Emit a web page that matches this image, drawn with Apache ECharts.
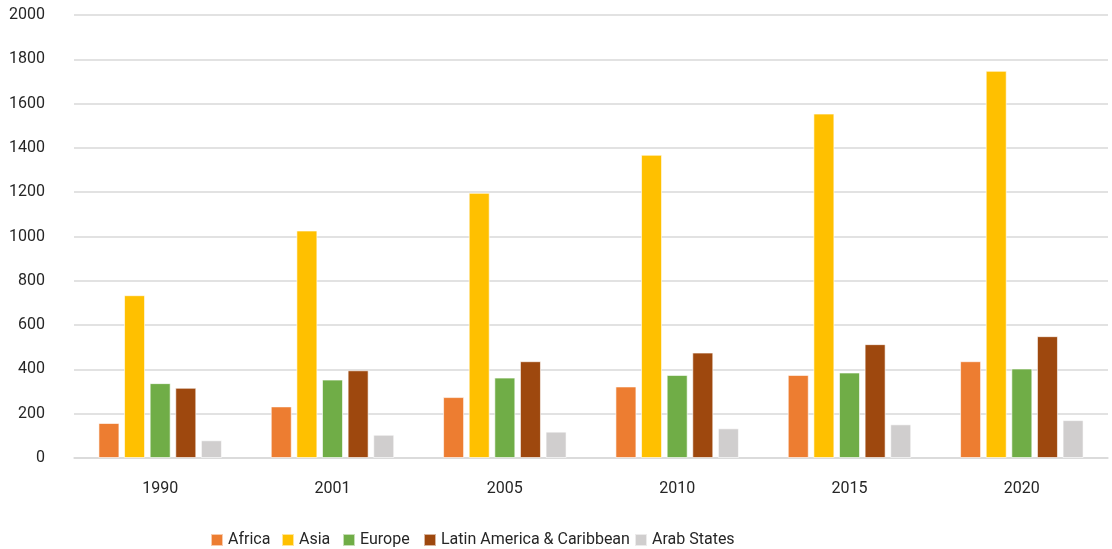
<!DOCTYPE html>
<html><head><meta charset="utf-8">
<script src="https://cdn.jsdelivr.net/npm/echarts@6/dist/echarts.min.js"></script>
<style>html,body{margin:0;padding:0;background:#fff}#c{width:1112px;height:549px}</style>
</head><body><div id="c"></div>
<script>
const categories = ['1990','2001','2005','2010','2015','2020'];
const seriesNames = ['Africa','Asia','Europe','Latin America & Caribbean','Arab States'];
const africa = [158, 233, 275, 323, 375, 437];
const asia = [735, 1027, 1197, 1369, 1555, 1748];
const europe = [338, 354, 363, 375, 386, 404];
const latinAmerica = [317, 396, 437, 476, 514, 550];
const arabStates = [80, 105, 119, 134, 152, 171];
const colors = ['#ED7D31','#FFC000','#70AD47','#9E480E','#D0CECE'];
const values = [africa, asia, europe, latinAmerica, arabStates];
const legendLeft = [205, 276, 337, 418, 629];

const chart = echarts.init(document.getElementById('c'));
chart.setOption({
  animation: false,
  grid: {left: 74, right: 4, top: 15, bottom: 91},
  legend: seriesNames.map((n, i) => ({
    data: [n], left: legendLeft[i], top: 527, itemWidth: 12, itemHeight: 12, itemGap: 6,
    icon: 'rect', textStyle: {fontFamily: 'Roboto', fontSize: 16, color: '#262626'}
  })),
  xAxis: {
    type: 'category', data: categories,
    axisLine: {show: true, lineStyle: {color: '#d9d9d9', width: 1.5}},
    axisTick: {show: false},
    axisLabel: {fontFamily: 'Roboto', fontSize: 16, color: '#262626', margin: 23}
  },
  yAxis: {
    type: 'value', min: 0, max: 2000, interval: 200,
    axisLine: {show: false}, axisTick: {show: false},
    splitLine: {lineStyle: {color: '#d9d9d9', width: 1.5}},
    axisLabel: {fontFamily: 'Roboto', fontSize: 16, color: '#262626', margin: 29, formatter: v => String(v)}
  },
  series: seriesNames.map((n, i) => ({
    name: n, type: 'bar', data: values[i], barWidth: 21, barGap: '22%',
    itemStyle: {color: colors[i], borderColor: 'rgba(255,255,255,0.6)', borderWidth: 1}
  }))
});
</script></body></html>
